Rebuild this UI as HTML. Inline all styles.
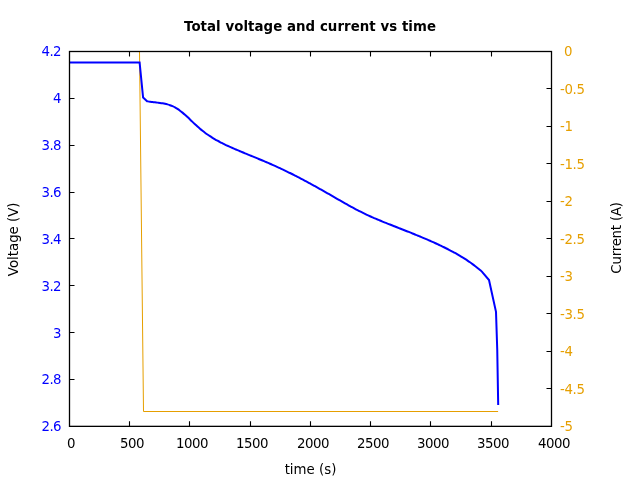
<!DOCTYPE html>
<html><head><meta charset="utf-8"><title>Total voltage and current vs time</title>
<style>
html,body{margin:0;padding:0;background:#fff;}
body{width:640px;height:480px;overflow:hidden;}
svg{display:block;}
text{font-family:"DejaVu Sans","Liberation Sans",sans-serif;font-size:13.333px;}
</style></head><body>
<svg width="640" height="480" viewBox="0 0 640 480">
<rect width="640" height="480" fill="#fff"/>
<path d="M69.5,379.5 h5 M69.5,332.5 h5 M69.5,285.5 h5 M69.5,238.5 h5 M69.5,192.5 h5 M69.5,145.5 h5 M69.5,98.5 h5 M551.5,88.5 h-5 M551.5,126.5 h-5 M551.5,163.5 h-5 M551.5,201.5 h-5 M551.5,238.5 h-5 M551.5,276.5 h-5 M551.5,313.5 h-5 M551.5,351.5 h-5 M551.5,388.5 h-5 M129.5,426.35 v-5 M129.5,51.5 v5 M189.5,426.35 v-5 M189.5,51.5 v5 M250.5,426.35 v-5 M250.5,51.5 v5 M310.5,426.35 v-5 M310.5,51.5 v5 M370.5,426.35 v-5 M370.5,51.5 v5 M430.5,426.35 v-5 M430.5,51.5 v5 M491.5,426.35 v-5 M491.5,51.5 v5" stroke="#000" stroke-width="1.1" fill="none"/>
<text x="61.5" y="431" text-anchor="end" textLength="20" fill="#0000ff">2.6</text>
<text x="61.5" y="384" text-anchor="end" textLength="20" fill="#0000ff">2.8</text>
<text x="61.5" y="338" text-anchor="end" fill="#0000ff">3</text>
<text x="61.5" y="291" text-anchor="end" textLength="20" fill="#0000ff">3.2</text>
<text x="61.5" y="244" text-anchor="end" textLength="20" fill="#0000ff">3.4</text>
<text x="61.5" y="197" text-anchor="end" textLength="20" fill="#0000ff">3.6</text>
<text x="61.5" y="150" text-anchor="end" textLength="20" fill="#0000ff">3.8</text>
<text x="61.5" y="103" text-anchor="end" fill="#0000ff">4</text>
<text x="61.5" y="56" text-anchor="end" textLength="20" fill="#0000ff">4.2</text>
<text x="564" y="56" text-anchor="start" fill="#e69f00">0</text>
<text x="560" y="94" text-anchor="start" textLength="25" fill="#e69f00">-0.5</text>
<text x="560" y="131" text-anchor="start" textLength="13" fill="#e69f00">-1</text>
<text x="560" y="169" text-anchor="start" textLength="25" fill="#e69f00">-1.5</text>
<text x="560" y="206" text-anchor="start" textLength="13" fill="#e69f00">-2</text>
<text x="560" y="244" text-anchor="start" textLength="25" fill="#e69f00">-2.5</text>
<text x="560" y="281" text-anchor="start" textLength="13" fill="#e69f00">-3</text>
<text x="560" y="319" text-anchor="start" textLength="25" fill="#e69f00">-3.5</text>
<text x="560" y="356" text-anchor="start" textLength="13" fill="#e69f00">-4</text>
<text x="560" y="394" text-anchor="start" textLength="25" fill="#e69f00">-4.5</text>
<text x="560" y="431" text-anchor="start" textLength="13" fill="#e69f00">-5</text>
<text x="67.0" y="448" text-anchor="start" fill="#000">0</text>
<text x="120.0" y="448" text-anchor="start" textLength="24.5" fill="#000">500</text>
<text x="176.0" y="448" text-anchor="start" textLength="32.5" fill="#000">1000</text>
<text x="236.0" y="448" text-anchor="start" textLength="32.5" fill="#000">1500</text>
<text x="297.0" y="448" text-anchor="start" textLength="32.5" fill="#000">2000</text>
<text x="357.0" y="448" text-anchor="start" textLength="32.5" fill="#000">2500</text>
<text x="417.0" y="448" text-anchor="start" textLength="32.5" fill="#000">3000</text>
<text x="477.0" y="448" text-anchor="start" textLength="32.5" fill="#000">3500</text>
<text x="538.0" y="448" text-anchor="start" textLength="32.5" fill="#000">4000</text>
<text x="184.0" y="30.5" text-anchor="start" textLength="252" font-weight="bold" fill="#000">Total voltage and current vs time</text>
<text x="310.5" y="474" text-anchor="middle" fill="#000">time (s)</text>
<text transform="translate(18.3,239.3) rotate(-90)" text-anchor="middle" fill="#000">Voltage (V)</text>
<text transform="translate(621.3,273.7) rotate(-90)" text-anchor="start" textLength="71.7" fill="#000">Current (A)</text>
<path d="M69.50,51.50 L139.50,51.50 L143.50,411.50 L498.10,411.50" stroke="#e69f00" stroke-width="1" fill="none" stroke-linejoin="miter"/>
<path d="M69.5,62.5 L139.6,62.5 L143.1,97.5 L147.1,101.25 C147.58,101.33 149.10,101.61 150.00,101.74 C150.90,101.88 151.67,101.97 152.50,102.08 C153.33,102.18 154.17,102.27 155.00,102.36 C155.83,102.45 156.67,102.53 157.50,102.62 C158.33,102.71 159.17,102.79 160.00,102.90 C160.83,103.00 161.67,103.12 162.50,103.26 C163.33,103.40 164.17,103.55 165.00,103.75 C165.83,103.94 166.67,104.16 167.50,104.41 C168.33,104.65 169.17,104.93 170.00,105.23 C170.83,105.53 171.67,105.84 172.50,106.20 C173.33,106.56 174.17,106.95 175.00,107.40 C175.83,107.85 176.67,108.37 177.50,108.91 C178.33,109.46 179.17,110.06 180.00,110.68 C180.83,111.30 181.67,111.95 182.50,112.63 C183.33,113.32 184.17,114.03 185.00,114.77 C185.83,115.50 186.67,116.28 187.50,117.06 C188.33,117.84 189.17,118.65 190.00,119.46 C190.83,120.26 191.67,121.08 192.50,121.89 C193.33,122.69 194.17,123.50 195.00,124.29 C195.83,125.07 196.67,125.84 197.50,126.59 C198.33,127.34 199.17,128.07 200.00,128.77 C200.83,129.48 201.67,130.15 202.50,130.81 C203.33,131.47 204.17,132.10 205.00,132.72 C205.83,133.34 206.67,133.94 207.50,134.51 C208.33,135.09 209.17,135.65 210.00,136.20 C210.83,136.74 211.67,137.27 212.50,137.78 C213.33,138.29 214.17,138.79 215.00,139.27 C215.83,139.76 216.67,140.23 217.50,140.69 C218.33,141.15 219.17,141.60 220.00,142.04 C220.83,142.49 221.67,142.91 222.50,143.34 C223.33,143.76 224.17,144.17 225.00,144.57 C225.83,144.98 226.67,145.37 227.50,145.76 C228.33,146.15 229.17,146.53 230.00,146.91 C230.83,147.29 231.67,147.66 232.50,148.02 C233.33,148.39 234.17,148.75 235.00,149.11 C235.83,149.47 236.67,149.82 237.50,150.17 C238.33,150.52 239.17,150.87 240.00,151.22 C240.83,151.57 241.67,151.92 242.50,152.26 C243.33,152.61 244.17,152.95 245.00,153.30 C245.83,153.64 246.67,153.98 247.50,154.33 C248.33,154.67 249.17,155.01 250.00,155.35 C250.83,155.70 251.67,156.04 252.50,156.38 C253.33,156.72 254.17,157.07 255.00,157.41 C255.83,157.75 256.67,158.10 257.50,158.44 C258.33,158.79 259.17,159.13 260.00,159.48 C260.83,159.83 261.67,160.17 262.50,160.52 C263.33,160.87 264.17,161.22 265.00,161.58 C265.83,161.93 266.67,162.28 267.50,162.64 C268.33,163.00 269.17,163.36 270.00,163.72 C270.83,164.08 271.67,164.45 272.50,164.81 C273.33,165.18 274.17,165.55 275.00,165.92 C275.83,166.29 276.67,166.67 277.50,167.05 C278.33,167.43 279.17,167.81 280.00,168.20 C280.83,168.59 281.67,168.98 282.50,169.37 C283.33,169.76 284.17,170.16 285.00,170.56 C285.83,170.96 286.67,171.37 287.50,171.78 C288.33,172.18 289.17,172.59 290.00,173.01 C290.83,173.42 291.67,173.84 292.50,174.26 C293.33,174.68 294.17,175.10 295.00,175.53 C295.83,175.96 296.67,176.39 297.50,176.82 C298.33,177.25 299.17,177.68 300.00,178.12 C300.83,178.56 301.67,179.00 302.50,179.44 C303.33,179.88 304.17,180.33 305.00,180.77 C305.83,181.22 306.67,181.67 307.50,182.12 C308.33,182.57 309.17,183.02 310.00,183.48 C310.83,183.93 311.67,184.39 312.50,184.85 C313.33,185.31 314.17,185.77 315.00,186.23 C315.83,186.69 316.67,187.16 317.50,187.62 C318.33,188.09 319.17,188.55 320.00,189.02 C320.83,189.49 321.67,189.96 322.50,190.43 C323.33,190.90 324.17,191.38 325.00,191.85 C325.83,192.32 326.67,192.80 327.50,193.27 C328.33,193.75 329.17,194.22 330.00,194.70 C330.83,195.18 331.67,195.65 332.50,196.13 C333.33,196.61 334.17,197.09 335.00,197.57 C335.83,198.05 336.67,198.53 337.50,199.01 C338.33,199.49 339.17,199.97 340.00,200.44 C340.83,200.92 341.67,201.40 342.50,201.88 C343.33,202.35 344.17,202.83 345.00,203.30 C345.83,203.77 346.67,204.25 347.50,204.71 C348.33,205.18 349.17,205.65 350.00,206.11 C350.83,206.57 351.67,207.03 352.50,207.49 C353.33,207.94 354.17,208.39 355.00,208.84 C355.83,209.29 356.67,209.73 357.50,210.17 C358.33,210.60 359.17,211.03 360.00,211.46 C360.83,211.89 361.67,212.31 362.50,212.72 C363.33,213.13 364.17,213.54 365.00,213.94 C365.83,214.34 366.67,214.73 367.50,215.12 C368.33,215.51 369.17,215.89 370.00,216.26 C370.83,216.64 371.67,217.01 372.50,217.37 C373.33,217.74 374.17,218.09 375.00,218.45 C375.83,218.81 376.67,219.16 377.50,219.50 C378.33,219.85 379.17,220.20 380.00,220.54 C380.83,220.88 381.67,221.22 382.50,221.56 C383.33,221.89 384.17,222.23 385.00,222.56 C385.83,222.90 386.67,223.23 387.50,223.56 C388.33,223.89 389.17,224.22 390.00,224.55 C390.83,224.88 391.67,225.21 392.50,225.54 C393.33,225.87 394.17,226.20 395.00,226.52 C395.83,226.85 396.67,227.18 397.50,227.51 C398.33,227.83 399.17,228.16 400.00,228.49 C400.83,228.82 401.67,229.14 402.50,229.47 C403.33,229.80 404.17,230.13 405.00,230.46 C405.83,230.79 406.67,231.12 407.50,231.45 C408.33,231.78 409.17,232.11 410.00,232.44 C410.83,232.78 411.67,233.11 412.50,233.45 C413.33,233.78 414.17,234.12 415.00,234.46 C415.83,234.80 416.67,235.13 417.50,235.48 C418.33,235.82 419.17,236.16 420.00,236.51 C420.83,236.85 421.67,237.20 422.50,237.55 C423.33,237.90 424.17,238.26 425.00,238.61 C425.83,238.97 426.67,239.32 427.50,239.68 C428.33,240.05 429.17,240.41 430.00,240.77 C430.83,241.14 431.67,241.51 432.50,241.88 C433.33,242.26 434.17,242.63 435.00,243.01 C435.83,243.39 436.67,243.77 437.50,244.16 C438.33,244.55 439.17,244.94 440.00,245.33 C440.83,245.73 441.67,246.13 442.50,246.53 C443.33,246.93 444.17,247.34 445.00,247.75 C445.83,248.16 446.67,248.58 447.50,249.00 C448.33,249.42 449.17,249.85 450.00,250.28 C450.83,250.72 451.67,251.15 452.50,251.60 C453.33,252.05 454.17,252.50 455.00,252.96 C455.83,253.42 456.67,253.89 457.50,254.37 C458.33,254.84 459.17,255.33 460.00,255.83 C460.83,256.32 461.67,256.83 462.50,257.34 C463.33,257.86 464.17,258.38 465.00,258.92 C465.83,259.46 466.67,260.00 467.50,260.57 C468.33,261.13 469.17,261.70 470.00,262.28 C470.83,262.87 471.67,263.47 472.50,264.08 C473.33,264.69 474.17,265.31 475.00,265.95 C475.83,266.59 476.67,267.25 477.50,267.92 C478.33,268.59 479.27,269.36 480.00,269.97 C480.73,270.59 481.58,271.33 481.90,271.60 L489,280 L496,311.9 L497.25,350 L498.2,405" stroke="#0000ff" stroke-width="2" fill="none" stroke-linejoin="miter" stroke-linecap="butt"/>
<rect x="69.5" y="51.5" width="482.0" height="374.85" fill="none" stroke="#000" stroke-width="1.3"/>
</svg></body></html>
